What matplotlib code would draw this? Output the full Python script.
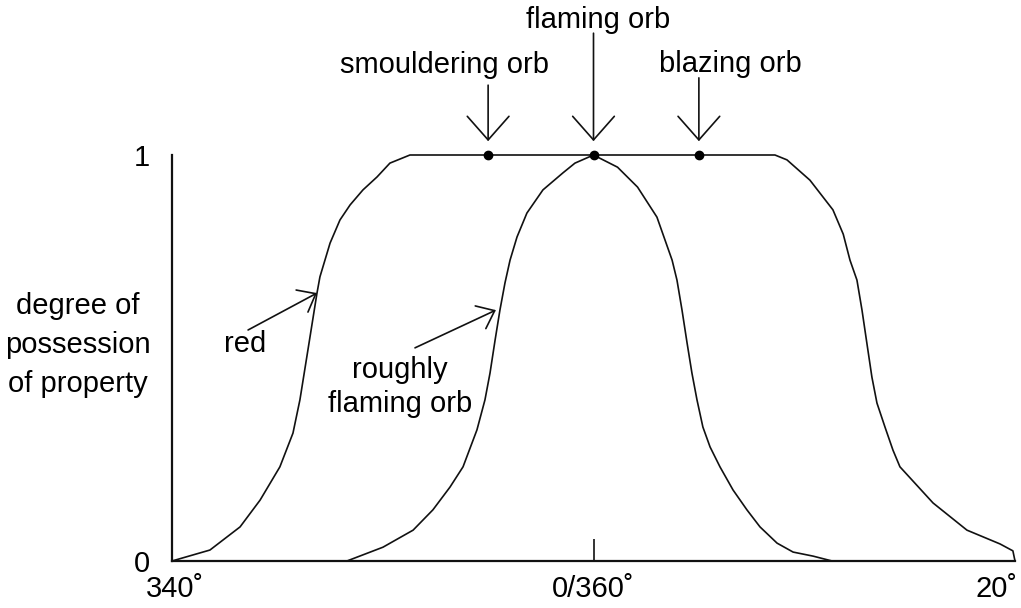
import matplotlib
matplotlib.use("Agg")
import matplotlib.pyplot as plt
from matplotlib.transforms import ScaledTranslation

plt.rcParams['font.family'] = ['Liberation Sans', 'DejaVu Sans']

# hue in degrees relative to 0/360, and degree of membership (0..1)
red_x = [-20, -18.20, -16.77, -15.82, -14.88, -14.26, -13.93, -13.55, -13.12, -12.98,
         -12.50, -12.03, -11.55, -10.94, -10.27, -9.66, -8.71,
         8.61, 9.18, 10.27, 11.36, 11.85, 12.17, 12.50, 12.74, 12.97, 13.21,
         13.45, 13.83, 14.21, 14.54, 16.11, 17.72, 19.29, 19.90, 20]
red_y = [0, 0.027, 0.084, 0.150, 0.232, 0.315, 0.397, 0.520, 0.660, 0.700,
         0.783, 0.840, 0.877, 0.914, 0.946, 0.980, 1.0,
         1.0, 0.988, 0.938, 0.865, 0.805, 0.741, 0.692, 0.618, 0.537, 0.453,
         0.389, 0.330, 0.273, 0.232, 0.143, 0.076, 0.042, 0.025, 0]

flaming_x = [-11.70, -9.99, -8.56, -7.62, -6.81, -6.19, -5.53, -5.15, -4.91, -4.67,
             -4.44, -4.20, -3.96, -3.63, -3.16, -2.40, -1.45, -0.88, 0.0,
             1.14, 2.09, 3.01, 3.73, 3.96, 4.20, 4.44, 4.67, 4.91, 5.19, 5.53,
             6.00, 6.62, 7.28, 7.90, 8.71, 9.47, 10.42, 11.32]
flaming_y = [0, 0.034, 0.076, 0.126, 0.182, 0.232, 0.323, 0.397, 0.463, 0.544,
             0.618, 0.685, 0.741, 0.798, 0.857, 0.914, 0.956, 0.980, 1.0,
             0.970, 0.921, 0.847, 0.741, 0.692, 0.618, 0.537, 0.463, 0.397, 0.330, 0.281,
             0.232, 0.175, 0.126, 0.084, 0.044, 0.022, 0.012, 0]

# named orbs sitting on the plateau of "red"
orb_names = ['smouldering orb', 'flaming orb', 'blazing orb']
orb_x = [-5, 0, 5]
orb_y = [1, 1, 1]

x_ticks = [-20, 0, 20]
x_tick_labels = ['340˚', '0/360˚', '20˚']
y_ticks = [0, 1]
y_tick_labels = ['0', '1']

FS = 21

fig = plt.figure(figsize=(10.21, 6.08), dpi=100)
ax = fig.add_axes([172 / 1021, 47 / 608, 843 / 1021, 406 / 608])
ax.set_xlim(-20, 20)
ax.set_ylim(0, 1)

for s in ['top', 'right']:
    ax.spines[s].set_visible(False)
for s in ['left', 'bottom']:
    ax.spines[s].set_linewidth(1.6)
    ax.spines[s].set_color('#111111')

ax.plot(red_x, red_y, color='#111111', lw=1.2, clip_on=False)
ax.plot(flaming_x, flaming_y, color='#111111', lw=1.2, clip_on=False)
ax.plot(orb_x, orb_y, 'o', color='black', ms=6, clip_on=False)

# ticks: only the one at 0/360 shows a mark
ax.set_xticks([x_ticks[1]])
ax.set_xticklabels([x_tick_labels[1]])
ax.set_xticks([x_ticks[0], x_ticks[2]], minor=True)
ax.set_xticklabels([x_tick_labels[0], x_tick_labels[2]], minor=True)
ax.tick_params(axis='x', which='major', direction='in', length=16, width=1.2,
               pad=10, labelsize=FS, color='#111111')
ax.tick_params(axis='x', which='minor', length=0, pad=10, labelsize=FS)
ax.set_yticks(y_ticks)
ax.set_yticklabels(y_tick_labels)
ax.tick_params(axis='y', length=0, pad=16, labelsize=FS)

# axis title
ax.text(-24.45, 0.532, 'degree of\npossession\nof property', ha='center', va='center',
        multialignment='center', fontsize=FS, linespacing=1.5, clip_on=False)

# arrows to the orbs
big_head = dict(arrowstyle='->, head_length=0.85, head_width=0.75', mutation_scale=20,
                lw=1.2, color='#111111', shrinkA=0, shrinkB=0)
orb_tail_y = [1.172, 1.30, 1.19]
orb_text_x = [-7.09, 0.21, 6.48]
orb_text_y = [1.202, 1.313, 1.204]
for name, x, ty, lx, ly in zip(orb_names, orb_x, orb_tail_y, orb_text_x, orb_text_y):
    ax.annotate('', xy=(x, 1.034), xytext=(x, ty), arrowprops=big_head,
                annotation_clip=False)
    ax.text(lx, ly, name, ha='center', va='baseline', fontsize=FS, clip_on=False)

small_head = dict(arrowstyle='->, head_length=0.75, head_width=0.6', mutation_scale=15,
                  lw=1.2, color='#111111', shrinkA=0, shrinkB=0)
ax.annotate('', xy=(-13.12, 0.660), xytext=(-16.39, 0.569), arrowprops=small_head)
ax.text(-16.54, 0.515, 'red', ha='center', va='baseline', fontsize=FS)

ax.annotate('', xy=(-4.63, 0.618), xytext=(-8.47, 0.525), arrowprops=small_head)
ax.text(-9.18, 0.451, 'roughly', ha='center', va='baseline', fontsize=FS)
ax.text(-9.18, 0.367, 'flaming orb', ha='center', va='baseline', fontsize=FS)

# the 20˚ label sits left of the axis end, as in the sketch
minor_labels = ax.get_xticklabels(minor=True)
minor_labels[0].set_transform(minor_labels[0].get_transform()
                              + ScaledTranslation(0.03, 0, fig.dpi_scale_trans))
minor_labels[1].set_ha('right')
minor_labels[1].set_transform(minor_labels[1].get_transform()
                              + ScaledTranslation(0.03, 0, fig.dpi_scale_trans))

fig.savefig('out.png', dpi=100)
